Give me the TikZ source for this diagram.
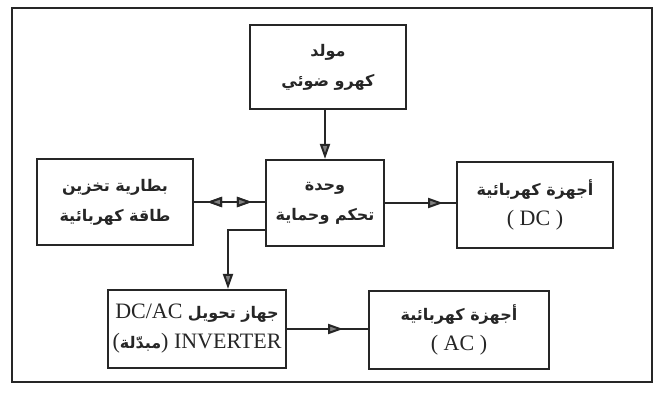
\documentclass[tikz,border=0pt]{standalone}
\usepackage{fontspec}
\setmainfont{Liberation Serif}
\newfontfamily\arabicfont[Script=Arabic]{DejaVu Sans}
\TeXXeTstate=1
\usetikzlibrary{arrows.meta,decorations.markings}
\definecolor{ink}{HTML}{262626}
\definecolor{headfill}{HTML}{808080}
\newcommand\artext[1]{{\arabicfont\bfseries\fontsize{16}{30}\selectfont\beginR #1\endR}}
\begin{document}
\begin{tikzpicture}[x=1pt,y=-1pt,
  box/.style={draw=ink, line width=2.2pt, inner sep=0pt, align=center, text=ink,
    font=\fontsize{22}{30}\selectfont},
  conn/.style={draw=ink, line width=2pt},
  endhead/.style={-{Triangle[length=15pt,width=10pt,fill=headfill]}},
  headat/.style={postaction={decorate}, decoration={markings,
    mark=at position #1 with {\arrow[ink]{Triangle[length=15pt,width=10pt,fill=headfill]}}}},
  headback/.style={postaction={decorate}, decoration={markings,
    mark=at position #1 with {\arrowreversed[ink]{Triangle[length=15pt,width=10pt,fill=headfill]}}}}
]
\fill[white] (0,0) rectangle (672,396);
\useasboundingbox (0,0) rectangle (672,396);
\draw[ink, line width=2.2pt] (12,8) rectangle (652,382);

\node[box, minimum width=156pt, minimum height=84pt] (gen) at (328,67)
  {\artext{مولد}\\ \artext{كهرو ضوئي}};
\node[box, minimum width=118pt, minimum height=86pt] (ctrl) at (325,203)
  {\artext{وحدة}\\ \artext{تحكم وحماية}};
\node[box, minimum width=156pt, minimum height=86pt] (bat) at (115,202)
  {\artext{بطارية تخزين}\\ \artext{طاقة كهربائية}};
\node[box, minimum width=156pt, minimum height=86pt] (dc) at (535,205)
  {\artext{أجهزة كهربائية}\\ ( DC )};
\node[box, minimum width=178pt, minimum height=78pt] (inv) at (197,329)
  {DC/AC \artext{جهاز تحويل}\\ (\artext{مبدّلة}) INVERTER};
\node[box, minimum width=180pt, minimum height=78pt] (ac) at (459,330)
  {\artext{أجهزة كهربائية}\\ ( AC )};

\coordinate (bend) at (228,230);

\draw[conn, endhead] (gen.south -| ctrl.north) -- (ctrl.north);
\draw[conn, headback=13pt, headat=-13pt] (bat.east) -- (bat.east -| ctrl.west);
\draw[conn, headat=58pt] (ctrl.east) -- (ctrl.east -| dc.west);
\draw[conn, endhead] (ctrl.west |- bend) -- (bend) -- (bend |- inv.north);
\draw[conn, headat=56pt] (inv.east) -- (inv.east -| ac.west);
\end{tikzpicture}
\end{document}
